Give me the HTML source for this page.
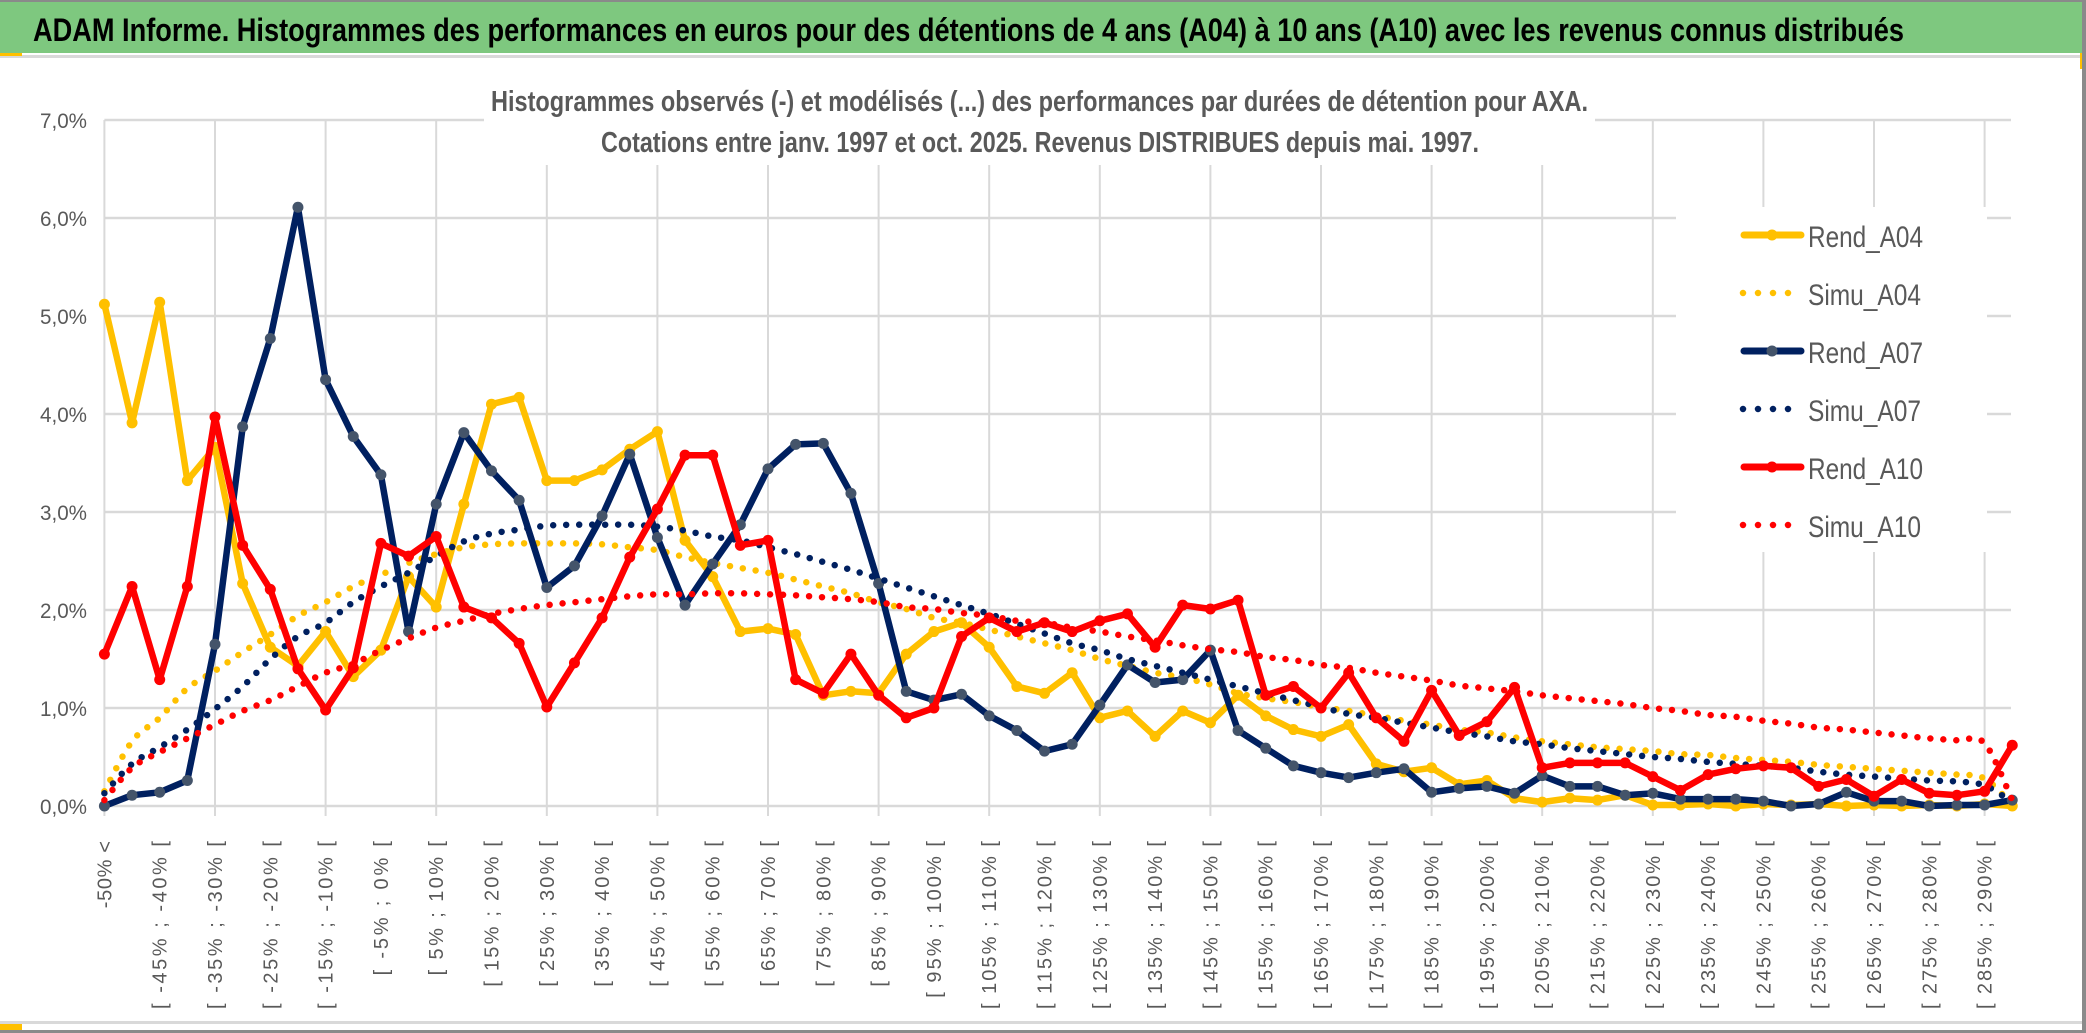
<!DOCTYPE html>
<html><head><meta charset="utf-8"><style>
html,body{margin:0;padding:0;background:#fff;}
svg{display:block;}
text{font-family:"Liberation Sans",sans-serif;}
</style></head><body>
<svg id="chart" xmlns="http://www.w3.org/2000/svg" width="2086" height="1033" viewBox="0 0 2086 1033">
<rect x="0" y="0" width="2086" height="1033" fill="#fff"/>
<rect x="0" y="2" width="2086" height="51" fill="#7ec87f"/>
<rect x="0" y="0" width="2086" height="2" fill="#8a8a8a"/>
<rect x="0" y="55" width="2086" height="3" fill="#d9d9d9"/>
<rect x="0" y="53" width="22" height="3" fill="#ffc000"/>
<rect x="2080" y="53" width="3" height="16" fill="#ffc000"/>
<text x="33" y="41" font-size="32" font-weight="bold" fill="#000" textLength="1871" lengthAdjust="spacingAndGlyphs">ADAM Informe. Histogrammes des performances en euros pour des détentions de 4 ans (A04) à 10 ans (A10) avec les revenus connus distribués</text>
<g id="grid"></g>
<rect x="484" y="60" width="1111" height="105" fill="#fff"/>
<rect x="1676" y="207" width="311" height="345" fill="#fff"/>
<text x="491" y="111" font-size="29" font-weight="bold" fill="#595959" textLength="1097" lengthAdjust="spacingAndGlyphs">Histogrammes observés (-) et modélisés (...) des performances par durées de détention pour AXA.</text>
<text x="601" y="152" font-size="29" font-weight="bold" fill="#595959" textLength="878" lengthAdjust="spacingAndGlyphs">Cotations entre janv. 1997 et oct. 2025. Revenus DISTRIBUES depuis mai. 1997.</text>
<g id="yaxis"></g>
<g id="xaxis"></g>
<g id="series"></g>
<g id="legend"></g>
<rect x="0" y="1021" width="2086" height="3" fill="#d9d9d9"/>
<rect x="0" y="1024" width="22" height="6" fill="#ffc000"/>
<rect x="0" y="1030" width="2086" height="3" fill="#8a8a8a"/>
<rect x="2082" y="0" width="4" height="1033" fill="#8a8a8a"/>
</svg>
<script>
var yTicks = [0,1,2,3,4,5,6,7];
var yTickLabels = ["0,0%","1,0%","2,0%","3,0%","4,0%","5,0%","6,0%","7,0%"];
var categories = [];
for (var c = 0; c < 70; c++) {
  categories.push(c === 0 ? "-50% <" : "[ " + (-55 + 5*c) + "% ; " + (-50 + 5*c) + "% [");
}
var rendA04 = [5.12,3.91,5.14,3.32,3.66,2.27,1.62,1.43,1.78,1.32,1.59,2.34,
 2.03,3.08,4.10,4.17,3.32,3.32,3.43,3.64,3.82,2.71,2.34,1.78,
 1.81,1.75,1.13,1.17,1.15,1.55,1.78,1.87,1.62,1.22,1.15,
 1.36,0.90,0.97,0.71,0.97,0.85,1.13,0.92,0.78,0.71,0.83,0.43,
 0.35,0.39,0.22,0.26,0.08,0.04,0.08,0.06,0.11,0.01,0.01,
 0.02,0.00,0.02,0.01,0.02,0.00,0.01,0.00,0.01,0.00,0.02,0.00];
var simuA04 = [0.15,0.66,0.90,1.20,1.38,1.57,1.75,1.94,2.08,2.24,2.36,2.48,
 2.57,2.64,2.67,2.68,2.68,2.68,2.67,2.64,2.61,2.54,2.48,2.43,
 2.38,2.31,2.24,2.17,2.08,2.01,1.92,1.87,1.80,1.73,1.66,
 1.59,1.50,1.43,1.36,1.31,1.24,1.15,1.10,1.06,1.01,0.97,0.92,
 0.87,0.83,0.78,0.75,0.70,0.66,0.63,0.60,0.58,0.56,0.53,
 0.52,0.49,0.47,0.45,0.42,0.40,0.38,0.36,0.34,0.32,0.28,0.01];
var rendA07 = [0.00,0.11,0.14,0.26,1.65,3.87,4.77,6.11,4.35,3.77,3.38,1.78,
 3.08,3.81,3.42,3.12,2.23,2.45,2.96,3.59,2.74,2.05,2.47,2.87,
 3.44,3.69,3.70,3.19,2.27,1.17,1.08,1.14,0.92,0.77,0.56,
 0.63,1.03,1.44,1.26,1.29,1.59,0.77,0.59,0.41,0.34,0.29,0.34,
 0.38,0.14,0.18,0.20,0.13,0.31,0.20,0.20,0.11,0.13,0.07,
 0.07,0.07,0.05,0.00,0.02,0.14,0.05,0.05,0.00,0.01,0.01,0.06];
var simuA07 = [0.13,0.43,0.60,0.78,0.99,1.22,1.50,1.73,1.87,2.08,2.24,2.38,
 2.55,2.70,2.78,2.82,2.86,2.87,2.87,2.87,2.85,2.81,2.75,2.71,
 2.64,2.57,2.49,2.41,2.32,2.23,2.14,2.05,1.96,1.86,1.76,
 1.66,1.59,1.50,1.43,1.36,1.29,1.22,1.15,1.08,1.01,0.94,0.90,
 0.85,0.80,0.75,0.71,0.66,0.63,0.59,0.56,0.53,0.50,0.48,
 0.45,0.43,0.41,0.39,0.35,0.32,0.30,0.28,0.26,0.25,0.21,0.04];
var rendA10 = [1.55,2.24,1.29,2.24,3.97,2.66,2.21,1.40,0.98,1.41,2.68,2.55,
 2.75,2.03,1.92,1.66,1.01,1.46,1.92,2.54,3.03,3.58,3.58,2.66,
 2.71,1.29,1.15,1.55,1.13,0.90,1.00,1.73,1.92,1.78,1.87,
 1.78,1.89,1.96,1.62,2.05,2.01,2.10,1.13,1.22,1.00,1.36,0.90,
 0.66,1.18,0.72,0.86,1.21,0.39,0.44,0.44,0.44,0.30,0.16,
 0.32,0.38,0.41,0.39,0.20,0.27,0.10,0.27,0.13,0.11,0.15,0.62];
var simuA10 = [0.06,0.39,0.55,0.69,0.83,0.97,1.08,1.22,1.36,1.45,1.59,1.71,
 1.82,1.89,1.96,2.01,2.05,2.08,2.11,2.14,2.16,2.16,2.17,2.17,
 2.16,2.15,2.13,2.11,2.08,2.03,2.01,1.97,1.94,1.89,1.87,
 1.82,1.78,1.73,1.69,1.64,1.60,1.57,1.52,1.49,1.44,1.41,1.36,
 1.32,1.28,1.23,1.20,1.17,1.13,1.10,1.07,1.04,1.00,0.97,
 0.93,0.91,0.87,0.84,0.80,0.78,0.75,0.72,0.69,0.67,0.64,0.06];
var seriesNames = ["Rend_A04","Simu_A04","Rend_A07","Simu_A07","Rend_A10","Simu_A10"];

var NS = "http://www.w3.org/2000/svg";
var X0 = 104.4, DX = 27.65, Y0 = 806, DY = 98, PLOT_RIGHT = 2011, PLOT_TOP = 120;
function xs(i){ return X0 + i*DX; }
function ys(v){ return Y0 - v*DY; }
function mk(tag, attrs, parent){
  var e = document.createElementNS(NS, tag);
  for (var k in attrs) e.setAttribute(k, attrs[k]);
  parent.appendChild(e); return e;
}
var grid = document.getElementById("grid");
for (var t = 0; t < yTicks.length; t++) {
  var gl = mk("line", {x1:X0, x2:PLOT_RIGHT, y1:ys(yTicks[t]), y2:ys(yTicks[t]), stroke:"#d9d9d9", "stroke-width":2.5}, grid);
  
  
}
for (var i = 0; i < categories.length; i += 4) {
  var vl = mk("line", {x1:xs(i), x2:xs(i), y1:PLOT_TOP, y2:Y0+10, stroke:"#d9d9d9", "stroke-width":2}, grid);
  
  
}
var yaxis = document.getElementById("yaxis");
for (var t = 0; t < yTicks.length; t++) {
  var yt = mk("text", {x:87, y:ys(yTicks[t])+8, "text-anchor":"end", "font-size":21, fill:"#595959", textLength:47, lengthAdjust:"spacingAndGlyphs"}, yaxis);
  yt.textContent = yTickLabels[t];
  
  
}
var xaxis = document.getElementById("xaxis");
for (var i = 0; i < categories.length; i++) {
  if (i !== 0 && i % 2 === 1) continue;
  var lx = xs(i) + 7, ly = 841;
  var xt = mk("text", {x:lx, y:ly, "text-anchor":"end", "font-size":20, fill:"#595959", transform:"rotate(-90 "+lx+" "+ly+")", textLength:(categories[i].length*11.2).toFixed(1), lengthAdjust:"spacing"}, xaxis);
  xt.textContent = categories[i];
  
  
}
function smoothPath(vals){
  var p = vals.map(function(v,i){ return [xs(i), ys(v)]; });
  var d = "M" + p[0][0] + "," + p[0][1];
  for (var i = 0; i < p.length-1; i++) {
    var p0 = p[Math.max(i-1,0)], p1 = p[i], p2 = p[i+1], p3 = p[Math.min(i+2,p.length-1)];
    var c1x = p1[0] + (p2[0]-p0[0])/6, c1y = p1[1] + (p2[1]-p0[1])/6;
    var c2x = p2[0] - (p3[0]-p1[0])/6, c2y = p2[1] - (p3[1]-p1[1])/6;
    d += " C" + c1x.toFixed(1) + "," + c1y.toFixed(1) + " " + c2x.toFixed(1) + "," + c2y.toFixed(1) + " " + p2[0].toFixed(1) + "," + p2[1].toFixed(1);
  }
  return d;
}
var layer = document.getElementById("series");
function drawRend(vals, color, markerFill, name){
  var g = mk("g", {}, layer);
  
  
  var pts = vals.map(function(v,i){ return xs(i).toFixed(1)+","+ys(v).toFixed(1); }).join(" ");
  var pl = mk("polyline", {points:pts, fill:"none", stroke:color, "stroke-width":6.5, "stroke-linejoin":"round", "stroke-linecap":"round"}, g);
  
  
  for (var i = 0; i < vals.length; i++) {
    var m = mk("circle", {cx:xs(i), cy:ys(vals[i]), r:5.5, fill:markerFill}, g);
    
    
  }
}
function drawSimu(vals, color, name){
  var p = mk("path", {d:smoothPath(vals), fill:"none", stroke:color, "stroke-width":6.5, "stroke-linecap":"round", "stroke-dasharray":"0 13"}, layer);
  
  
}
drawRend(rendA04, "#ffc000", "#ffc000", "rend-a04");
drawSimu(simuA04, "#ffc000", "simu-a04");
drawRend(rendA07, "#002060", "#44546a", "rend-a07");
drawSimu(simuA07, "#002060", "simu-a07");
drawRend(rendA10, "#ff0000", "#ff0000", "rend-a10");
drawSimu(simuA10, "#ff0000", "simu-a10");

var legend = document.getElementById("legend");
var legColors = ["#ffc000","#ffc000","#002060","#002060","#ff0000","#ff0000"];
var legMarker = ["#ffc000","","#44546a","","#ff0000",""];
for (var j = 0; j < seriesNames.length; j++) {
  var cy = 235 + j*58;
  var lg = mk("g", {}, legend);
  
  
  if (j % 2 === 0) {
    mk("line", {x1:1744, x2:1801, y1:cy, y2:cy, stroke:legColors[j], "stroke-width":7, "stroke-linecap":"round"}, lg);
    mk("circle", {cx:1772, cy:cy, r:5.5, fill:legMarker[j]}, lg);
  } else {
    var end = (j === 5) ? 1801 : 1789;
    mk("line", {x1:1743, x2:end, y1:cy, y2:cy, stroke:legColors[j], "stroke-width":6.5, "stroke-linecap":"round", "stroke-dasharray":"0 15"}, lg);
  }
  var lt = mk("text", {x:1808, y:cy+12, "font-size":30, fill:"#595959", textLength:(j%2===0?115:113), lengthAdjust:"spacingAndGlyphs"}, lg);
  lt.textContent = seriesNames[j];
  
  
}
</script>
</body></html>
